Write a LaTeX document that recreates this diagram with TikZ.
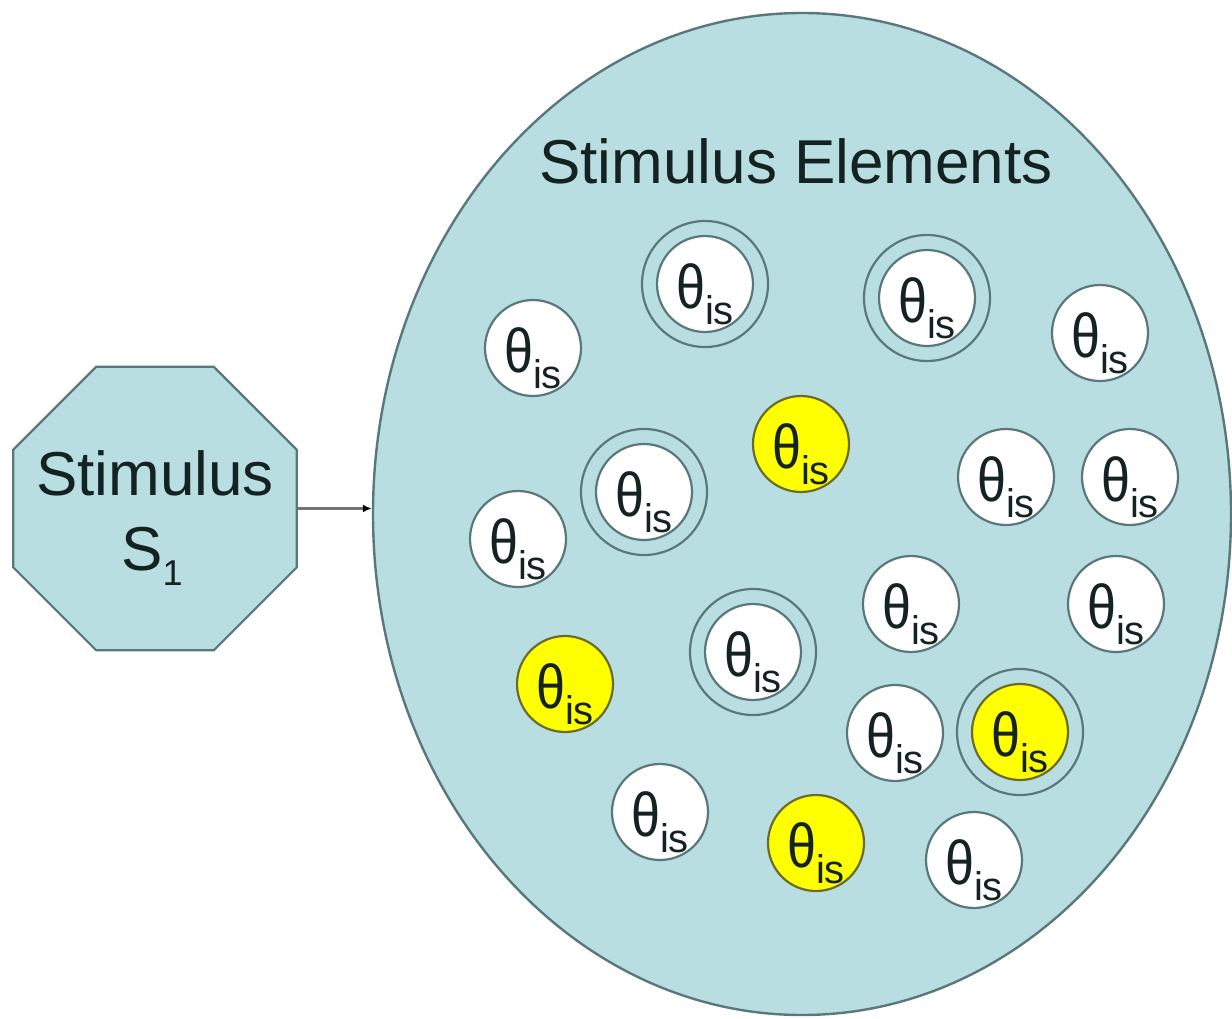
\documentclass[tikz,border=0pt]{standalone}
\usepackage{fontspec}
\setmainfont{Liberation Sans}
\usetikzlibrary{shapes.geometric,arrows.meta}
\definecolor{bgteal}{HTML}{B9DEE1}
\definecolor{edgeteal}{HTML}{5A787C}
\definecolor{ylw}{HTML}{FFFF00}
\definecolor{ylwedge}{HTML}{6B6B2A}
\definecolor{txt}{HTML}{142222}
\newcommand{\thetais}{{\fontsize{62}{62}\selectfont\scalebox{0.84}[1]{θ}}\raisebox{-16pt}{\fontsize{40}{40}\selectfont is}}
\tikzset{
  elem/.style={circle, draw=edgeteal, line width=2.2pt, fill=white, minimum size=96pt, inner sep=0pt,
    text height=48pt, text depth=0pt, text=txt},
  yelem/.style={elem, fill=ylw, draw=ylwedge},
  ring/.style={circle, draw=edgeteal, line width=2.2pt, minimum size=126pt, inner sep=0pt},
  bigtext/.style={font=\fontsize{62}{62}\selectfont, text=txt, inner sep=0pt, anchor=base},
}
\begin{document}
\begin{tikzpicture}[x=1pt,y=-1pt]
\useasboundingbox (0,0) rectangle (1232,1018);
% stimulus octagon
\node[regular polygon, regular polygon sides=8, minimum size=307pt, inner sep=0pt,
      fill=bgteal, draw=edgeteal, line width=2.2pt] (oct) at (155,508.5) {};
\node[bigtext] (stim) at (155,495) {Stimulus};
\node[bigtext] (s1) at (152,570) {S\raisebox{-15pt}{\fontsize{36}{36}\selectfont 1}};
% big ellipse
\node[ellipse, minimum width=858pt, minimum height=1002pt, inner sep=0pt,
      fill=bgteal, draw=edgeteal, line width=2.4pt] (ell) at (802,514) {};
\draw[draw=gray!90!black, line width=2.8pt, -{Latex[color=black,length=9pt,width=8pt]}] (oct.east) -- (oct.east -| ell.west);
\node[bigtext] (title) at (796,183) {Stimulus Elements};
% double circles
\foreach \n/\x/\y in {r1/705/284, r2/927/298, r3/644/492, r4/753/652, r5/1020/732}
  \node[ring] (\n) at (\x,\y) {};
\node[elem] (d1) at (705,284) {\thetais};
\node[elem] (d2) at (927,298) {\thetais};
\node[elem] (d3) at (644,492) {\thetais};
\node[elem] (d4) at (753,652) {\thetais};
\node[yelem] (d5) at (1020,732) {\thetais};
% single white circles
\node[elem] (w1) at (533,348) {\thetais};
\node[elem] (w2) at (1100,333) {\thetais};
\node[elem] (w3) at (1006,477) {\thetais};
\node[elem] (w4) at (1130,477) {\thetais};
\node[elem] (w5) at (518,539) {\thetais};
\node[elem] (w6) at (911,604) {\thetais};
\node[elem] (w7) at (1116,604) {\thetais};
\node[elem] (w8) at (895,733) {\thetais};
\node[elem] (w9) at (660,812) {\thetais};
\node[elem] (w10) at (974,860) {\thetais};
% yellow circles
\node[yelem] (y1) at (801,444) {\thetais};
\node[yelem] (y2) at (565,684) {\thetais};
\node[yelem] (y3) at (816,843) {\thetais};
\end{tikzpicture}
\end{document}
